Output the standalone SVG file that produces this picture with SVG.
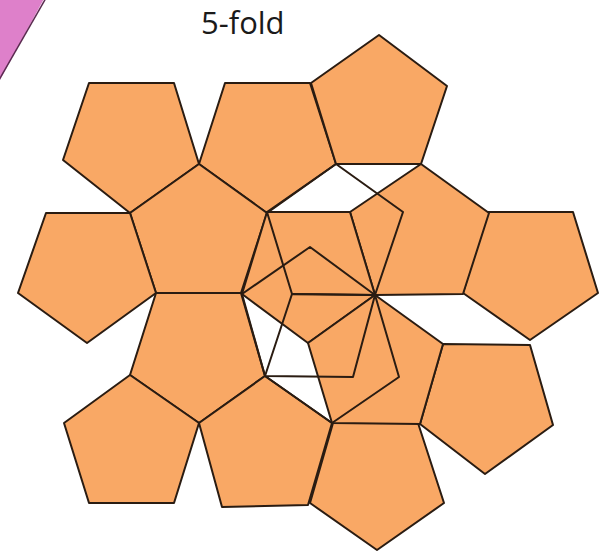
<svg xmlns="http://www.w3.org/2000/svg" width="599" height="552" viewBox="0 0 599 552">
<style>
.p{fill:#F9A865;stroke:#2a1c12;stroke-width:2;stroke-linejoin:round}
.o{fill:none;stroke:#2a1c12;stroke-width:2;stroke-linejoin:round}
.t{font-family:"Open Sans","Liberation Sans",sans-serif;font-size:31px;fill:#1a1a1a}
</style>
<rect width="599" height="552" fill="#ffffff"/>
<g id="corner">
<polygon points="-5,-5 46,-5 0,80 -5,80" fill="#DE80CA"/>
<line x1="46" y1="-2" x2="-1" y2="80" stroke="#5a2a50" stroke-width="1.5"/>
</g>
<text class="t" x="201" y="34">5-fold</text>
<g id="tiles">
<g id="pB"><polygon class="p" points="89,83 174,83 199,164 130,213 63,160"/></g>
<g id="pC"><polygon class="p" points="225,83 310,83 336,164 267,213 199,164"/></g>
<g id="pD"><polygon class="p" points="379,35 447,86 421,164 336,164 311,83"/></g>
<g id="pA"><polygon class="p" points="199,164 267,213 241,293 156,293 130,213"/></g>
<g id="pE"><polygon class="p" points="46,213 130,213 156,293 87,343 18,293"/></g>
<g id="pF"><polygon class="p" points="156,293 241,293 265,376 199,423 130,375"/></g>
<g id="pG"><polygon class="p" points="130,375 199,423 174,503 89,503 64,423"/></g>
<g id="pH"><polygon class="p" points="265,376 332,423 308,505 222,507 199,423"/></g>
<g id="pS"><polygon class="p" points="333,423 418,423 444,503 377,550 310,503"/></g>
<g id="pR"><polygon class="p" points="443,344 530,345 553,425 485,474 420,424"/></g>
<g id="pQ"><polygon class="p" points="487,212 573,212 598,293 530,340 463,293"/></g>
<g id="pJ"><polygon class="p" points="421,164 489,213 463,294 375,295 350,212"/></g>
<g id="pL"><polygon class="p" points="267,212 350,212 375,295 308,343 242,294"/></g>
<g id="pO"><polygon class="p" points="375,295 443,344 420,424 332,423 308,343"/></g>
</g>
<g id="outlines">
<g id="oK"><polygon class="o" points="336,164 403,212 375,295 292,294 267,212"/></g>
<g id="oM"><polygon class="o" points="310,247 375,295 353,377 265,376 242,294"/></g>
<g id="oN"><polygon class="o" points="292,294 375,295 399,377 332,423 265,376"/></g>
</g>
</svg>
